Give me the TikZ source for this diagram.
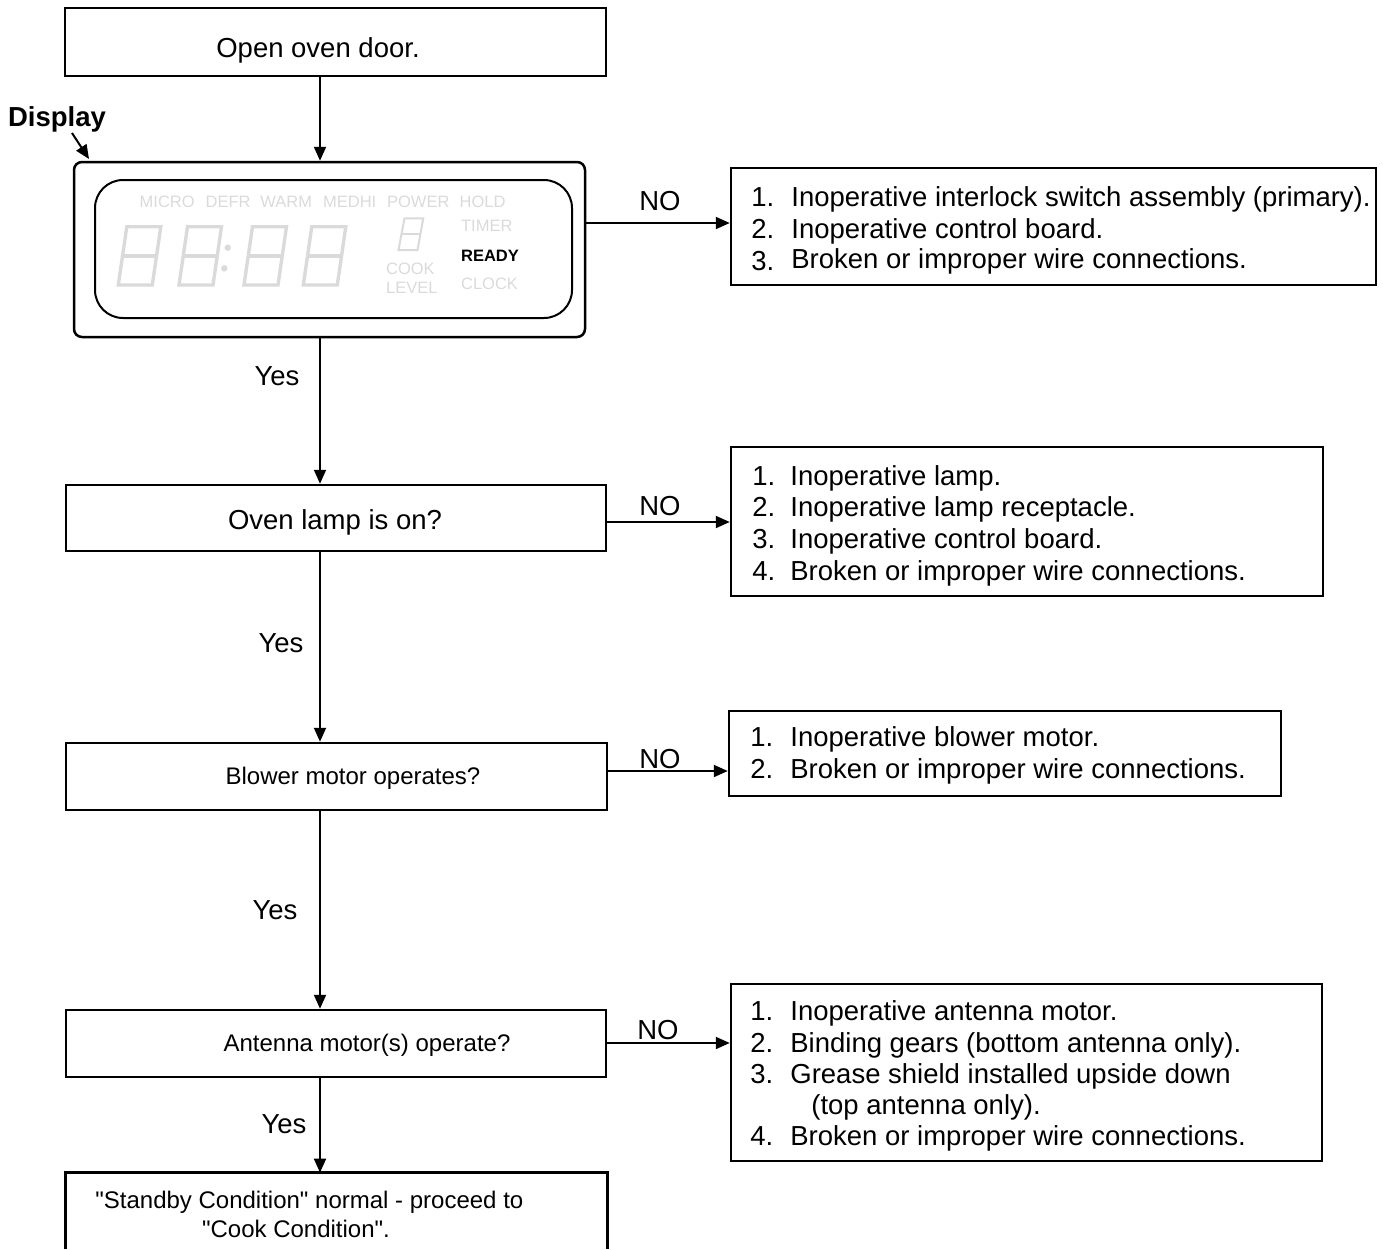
\documentclass[tikz,border=0pt]{standalone}
\usepackage{fontspec}
\setmainfont{Liberation Sans}
\newfontfamily\qfont{Liberation Sans}[Ligatures=ResetAll]
\usetikzlibrary{arrows.meta}
\definecolor{dispgray}{RGB}{218,218,218}
\newcommand{\bigf}{\fontsize{13.75pt}{16pt}\selectfont}
\newcommand{\medf}{\fontsize{12pt}{14pt}\selectfont}
\newcommand{\dispf}{\fontsize{8.25pt}{10pt}\selectfont}
\newcommand{\dq}{{\qfont\char34}}
\begin{document}
\begin{tikzpicture}[x=0.5pt,y=-0.5pt,
  frame/.style={draw, line width=1.25pt, inner sep=0pt},
  arr/.style={line width=1pt, -{Triangle[length=7pt,width=6pt]}},
  lbl/.style={inner sep=0pt, anchor=base, font=\bigf},
  lblm/.style={inner sep=0pt, anchor=base, font=\medf},
  itm/.style={inner sep=0pt, anchor=base west, font=\bigf},
  dtxt/.style={inner sep=0pt, anchor=west, font=\dispf, text=dispgray},
  seg/.style={draw=dispgray, line width=1.7pt, line join=miter},
]
\useasboundingbox (0,0) rectangle (1383,1249);

% ---- left column boxes
\node[frame, minimum width=270.5pt, minimum height=34pt] (open) at (335.5,42) {};
\node[frame, rounded corners=4pt, minimum width=255.5pt, minimum height=87.5pt] (dispo) at (329.5,249.5) {};
\node[draw, line width=1pt, inner sep=0pt, rounded corners=14pt, minimum width=238.5pt, minimum height=69pt] (dispi) at (333.5,249) {};
\node[frame, minimum width=270pt, minimum height=33pt] (lamp) at (336,518) {};
\node[frame, minimum width=270.5pt, minimum height=33.5pt] (blower) at (336.5,776.5) {};
\node[frame, minimum width=270pt, minimum height=33.5pt] (antenna) at (336,1043.5) {};
\node[inner sep=0pt, minimum width=270.5pt, minimum height=38pt] (stby) at (336.5,1211) {};
\draw[line width=1.25pt] (stby.south west) -- (stby.north west) -- (stby.north east) -- (stby.south east);

% ---- right column boxes
\node[frame, minimum width=322.5pt, minimum height=58.5pt] (r1) at (1053.5,226.5) {};
\node[frame, minimum width=296pt, minimum height=74.5pt] (r2) at (1027,521.5) {};
\node[frame, minimum width=276pt, minimum height=42.5pt] (r3) at (1005,753.5) {};
\node[frame, minimum width=295.5pt, minimum height=88.5pt] (r4) at (1026.5,1072.5) {};

% ---- texts of left column
\node[lbl] (topen) at (318,57.5) {Open oven door.};
\node[lbl] (tlamp) at (335,529) {Oven lamp is on?};
\node[lblm] (tblower) at (353,784.6) {Blower motor operates?};
\node[lblm] (tantenna) at (367,1051.6) {Antenna motor(s) operate?};
\node[lblm, anchor=base west] (tstby1) at (95,1208.6) {\dq Standby Condition\dq{} normal - proceed to};
\node[lblm, anchor=base west] (tstby2) at (201.7,1237.6) {\dq Cook Condition\dq.};
\node[lbl, font=\bigf\bfseries] (tdisplay) at (57,126) {Display};

% ---- display content
\node[dtxt] (dmicro) at (139.3,202.2) {MICRO};
\node[dtxt] (ddefr) at (205.3,202.2) {DEFR};
\node[dtxt] (dwarm) at (260,202.2) {WARM};
\node[dtxt] (dmedhi) at (322.7,202.2) {MEDHI};
\node[dtxt] (dpower) at (386.7,202.2) {POWER};
\node[dtxt] (dhold) at (459.3,202.2) {HOLD};
\node[dtxt] (dtimer) at (460.7,226) {TIMER};
\node[dtxt, text=black, font=\dispf\bfseries] (dready) at (460.7,256) {READY};
\node[dtxt] (dclock) at (460.7,284.3) {CLOCK};
\node[dtxt] (dcook) at (385.7,269) {COOK};
\node[dtxt] (dlevel) at (385.7,288.3) {LEVEL};
\foreach \x in {118.3,179,244,303.3}{
  \draw[seg] (\x+8.5,226.7) -- (\x+42.5,226.7) -- (\x+34,285) -- (\x,285) -- cycle;
  \draw[seg] (\x+4.3,256) -- (\x+38.3,256);
}
\fill[dispgray] (227.7,247.7) circle[radius=3.2];
\fill[dispgray] (224.3,268.3) circle[radius=3.2];
\draw[draw=dispgray, line width=1pt] (404.5,218.3) -- (423.3,218.3) -- (417.5,250) -- (398.5,250) -- cycle;
\draw[draw=dispgray, line width=1pt] (401.5,234) -- (420.3,234);

% ---- vertical connectors
\coordinate (cx) at (320,0);
\draw[arr] (open.south -| cx) -- (dispo.north -| cx);
\draw[arr] (dispo.south -| cx) -- (lamp.north -| cx);
\draw[arr] (lamp.south -| cx) -- (blower.north -| cx);
\draw[arr] (blower.south -| cx) -- (antenna.north -| cx);
\draw[arr] (antenna.south -| cx) -- (stby.north -| cx);
\node[lbl] (y1) at (277,385) {Yes};
\node[lbl] (y2) at (281,652) {Yes};
\node[lbl] (y3) at (275,919) {Yes};
\node[lbl] (y4) at (284,1133) {Yes};

% ---- display label arrow
\coordinate (dA) at (72,133);
\coordinate (dB) at (89,159);
\draw[arr] (dA) -- (dB);

% ---- NO connectors
\coordinate (n1) at (0,223);
\coordinate (n2) at (0,522);
\coordinate (n3) at (0,771);
\coordinate (n4) at (0,1043);
\draw[arr] (dispo.east |- n1) -- (r1.west |- n1);
\draw[arr] (lamp.east |- n2) -- (r2.west |- n2);
\draw[arr] (blower.east |- n3) -- (r3.west |- n3);
\draw[arr] (antenna.east |- n4) -- (r4.west |- n4);
\node[lbl] (no1) at (660,210) {NO};
\node[lbl] (no2) at (660,515) {NO};
\node[lbl] (no3) at (660,768) {NO};
\node[lbl] (no4) at (658,1039) {NO};

% ---- lists
\node[itm] (a1n) at (751,206.7) {1.};
\node[itm] (a1t) at (791,206.7) {Inoperative interlock switch assembly (primary).};
\node[itm] (a2n) at (751,238) {2.};
\node[itm] (a2t) at (791,238) {Inoperative control board.};
\node[itm] (a3n) at (751,270.5) {3.};
\node[itm] (a3t) at (791,268.5) {Broken or improper wire connections.};

\node[itm] (b1n) at (752,485) {1.};
\node[itm] (b1t) at (790,485) {Inoperative lamp.};
\node[itm] (b2n) at (752,516) {2.};
\node[itm] (b2t) at (790,516) {Inoperative lamp receptacle.};
\node[itm] (b3n) at (752,548) {3.};
\node[itm] (b3t) at (790,548) {Inoperative control board.};
\node[itm] (b4n) at (752,580) {4.};
\node[itm] (b4t) at (790,580) {Broken or improper wire connections.};

\node[itm] (c1n) at (750,746) {1.};
\node[itm] (c1t) at (790,746) {Inoperative blower motor.};
\node[itm] (c2n) at (750,778) {2.};
\node[itm] (c2t) at (790,778) {Broken or improper wire connections.};

\node[itm] (d1n) at (750,1020) {1.};
\node[itm] (d1t) at (790,1020) {Inoperative antenna motor.};
\node[itm] (d2n) at (750,1052) {2.};
\node[itm] (d2t) at (790,1052) {Binding gears (bottom antenna only).};
\node[itm] (d3n) at (750,1083) {3.};
\node[itm] (d3t) at (790,1083) {Grease shield installed upside down};
\node[itm] (d3u) at (811,1114) {(top antenna only).};
\node[itm] (d4n) at (750,1145.6) {4.};
\node[itm] (d4t) at (790,1145.6) {Broken or improper wire connections.};
\end{tikzpicture}
\end{document}
